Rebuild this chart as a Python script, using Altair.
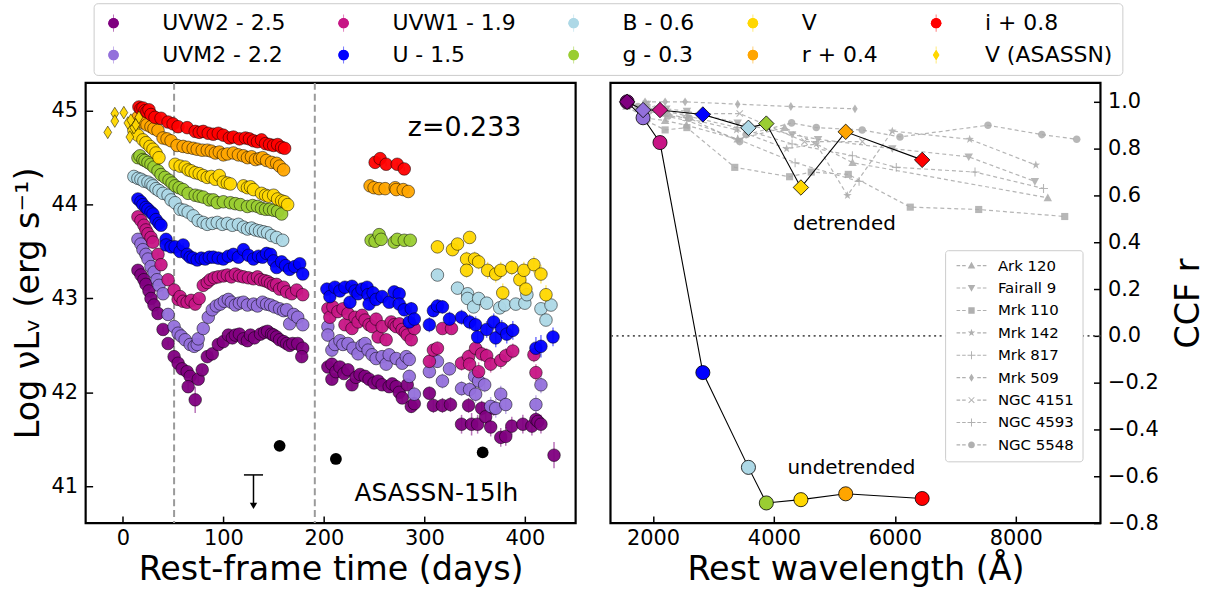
import altair as alt
import pandas as pd

FONT = "DejaVu Sans"

# ---------------- light curves: (rest-frame day, plotted log nuLnu, error) ----------------
UVW2 = [
    (15, 43.30, 0.02), (18, 43.25, 0.02), (21, 43.20, 0.02), (23, 43.15, 0.02), (26, 43.08, 0.02), (28, 43.00, 0.02),
    (31, 42.93, 0.02), (35, 42.84, 0.03), (40, 42.67, 0.03), (45, 42.52, 0.03), (51, 42.38, 0.03), (55, 42.31, 0.03),
    (59, 42.25, 0.03), (64, 42.22, 0.03), (67, 42.17, 0.04), (65, 42.06, 0.04), (72, 41.92, 0.14), (75, 42.14, 0.04),
    (79, 42.24, 0.03), (84, 42.38, 0.03), (89, 42.41, 0.03), (95, 42.51, 0.03), (100, 42.54, 0.03), (105, 42.61, 0.03),
    (109, 42.58, 0.03), (112, 42.61, 0.03), (116, 42.62, 0.03), (120, 42.57, 0.03), (124, 42.55, 0.03), (127, 42.61, 0.03),
    (131, 42.58, 0.03), (137, 42.62, 0.03), (141, 42.64, 0.03), (144, 42.65, 0.03), (148, 42.62, 0.03), (150, 42.61, 0.03),
    (153, 42.59, 0.03), (156, 42.56, 0.03), (160, 42.54, 0.03), (163, 42.52, 0.03), (166, 42.50, 0.03), (169, 42.52, 0.03),
    (174, 42.52, 0.03), (179, 42.47, 0.03), (178, 42.38, 0.04),
    (204, 42.27, 0.05), (208, 42.30, 0.05), (208, 42.14, 0.06), (212, 42.22, 0.05), (216, 42.27, 0.05), (220, 42.20, 0.05),
    (224, 42.24, 0.05), (228, 42.08, 0.06), (232, 42.16, 0.05), (236, 42.19, 0.05), (241, 42.17, 0.05), (245, 42.14, 0.05),
    (250, 42.10, 0.05), (254, 42.12, 0.05), (258, 42.08, 0.05), (265, 42.06, 0.05), (268, 42.09, 0.05), (272, 42.06, 0.05),
    (275, 42.00, 0.06), (278, 41.94, 0.06), (283, 42.08, 0.05), (287, 41.85, 0.07), (290, 41.88, 0.07),
    (305, 41.99, 0.07), (309, 41.86, 0.08), (318, 41.86, 0.08), (326, 41.87, 0.08), (337, 41.66, 0.10), (344, 41.86, 0.08),
    (347, 41.66, 0.12), (353, 41.66, 0.10), (357, 41.83, 0.08), (361, 41.74, 0.09), (366, 41.63, 0.10), (369, 41.83, 0.08),
    (376, 41.52, 0.10), (381, 41.53, 0.10), (387, 41.64, 0.10), (398, 41.66, 0.10), (407, 41.64, 0.10), (411, 41.71, 0.08),
    (413, 41.69, 0.08), (416, 41.66, 0.10), (429, 41.33, 0.14),
]
UVM2 = [
    (15, 43.63, 0.02), (18, 43.58, 0.02), (20, 43.52, 0.02), (23, 43.47, 0.02), (25, 43.42, 0.02), (28, 43.34, 0.02),
    (31, 43.28, 0.02), (34, 43.20, 0.02), (36, 43.14, 0.02), (40, 43.05, 0.03), (45, 42.83, 0.03), (51, 42.70, 0.03),
    (55, 42.63, 0.03), (58, 42.60, 0.03), (62, 42.56, 0.03), (67, 42.51, 0.03), (71, 42.49, 0.03), (74, 42.51, 0.03),
    (75, 42.57, 0.03), (80, 42.68, 0.03), (85, 42.80, 0.03), (89, 42.88, 0.03), (93, 42.92, 0.03), (97, 42.94, 0.03),
    (101, 42.97, 0.03), (105, 42.99, 0.03), (108, 42.96, 0.03), (112, 42.93, 0.03), (116, 42.95, 0.03), (120, 42.96, 0.03),
    (124, 42.93, 0.03), (130, 42.94, 0.03), (134, 42.92, 0.03), (139, 42.96, 0.03), (143, 42.94, 0.03), (147, 42.93, 0.03),
    (151, 42.91, 0.03), (156, 42.89, 0.03), (160, 42.87, 0.03), (163, 42.88, 0.03), (166, 42.73, 0.04), (170, 42.83, 0.03),
    (174, 42.80, 0.03), (179, 42.72, 0.04),
    (204, 42.70, 0.05), (204, 42.61, 0.05), (208, 42.45, 0.06), (211, 42.51, 0.05), (216, 42.55, 0.05), (219, 42.51, 0.05),
    (224, 42.52, 0.05), (229, 42.47, 0.05), (234, 42.41, 0.06), (238, 42.50, 0.05), (241, 42.52, 0.05), (244, 42.45, 0.05),
    (248, 42.40, 0.06), (252, 42.36, 0.06), (258, 42.38, 0.06), (262, 42.30, 0.06), (265, 42.40, 0.06), (272, 42.36, 0.06),
    (278, 42.31, 0.06), (282, 42.38, 0.06), (285, 42.35, 0.06), (285, 42.17, 0.07), (290, 41.98, 0.08),
    (305, 42.22, 0.07), (313, 42.33, 0.07), (318, 42.12, 0.08), (325, 42.25, 0.07), (337, 42.04, 0.08), (345, 42.03, 0.08),
    (350, 42.17, 0.08), (351, 41.98, 0.09), (354, 42.12, 0.08), (360, 42.08, 0.08), (366, 41.85, 0.10), (371, 41.83, 0.10),
    (376, 41.98, 0.09), (381, 41.87, 0.10), (411, 41.87, 0.10), (416, 42.08, 0.09),
]
UVW1 = [
    (15, 43.87, 0.02), (18, 43.83, 0.02), (21, 43.78, 0.02), (23, 43.73, 0.02), (25, 43.69, 0.02), (28, 43.65, 0.02),
    (30, 43.60, 0.02), (35, 43.47, 0.02), (38, 43.36, 0.02), (45, 43.20, 0.03), (51, 43.09, 0.03), (55, 42.99, 0.03),
    (57, 43.02, 0.03), (60, 42.97, 0.03), (64, 42.96, 0.03), (68, 42.98, 0.03), (72, 42.94, 0.03), (76, 43.00, 0.03),
    (80, 43.14, 0.03), (84, 43.17, 0.03), (87, 43.20, 0.03), (91, 43.22, 0.03), (95, 43.23, 0.03), (100, 43.24, 0.03),
    (104, 43.25, 0.03), (108, 43.23, 0.03), (112, 43.26, 0.03), (116, 43.24, 0.03), (120, 43.23, 0.03), (125, 43.22, 0.03),
    (130, 43.21, 0.03), (134, 43.23, 0.03), (137, 43.20, 0.03), (141, 43.19, 0.03), (144, 43.18, 0.03), (147, 43.16, 0.03),
    (150, 43.14, 0.03), (153, 43.15, 0.03), (156, 43.10, 0.03), (160, 43.12, 0.03), (163, 43.07, 0.03), (168, 43.05, 0.03),
    (173, 43.09, 0.03), (179, 43.04, 0.03),
    (204, 42.89, 0.05), (206, 42.80, 0.05), (209, 42.91, 0.05), (214, 42.86, 0.05), (219, 42.89, 0.05), (221, 42.72, 0.06),
    (224, 42.84, 0.05), (228, 42.68, 0.06), (231, 42.80, 0.05), (234, 42.75, 0.05), (238, 42.82, 0.05), (241, 42.77, 0.05),
    (245, 42.72, 0.06), (248, 42.70, 0.06), (252, 42.78, 0.05), (254, 42.59, 0.06), (258, 42.70, 0.06), (262, 42.56, 0.06),
    (267, 42.75, 0.05), (270, 42.72, 0.06), (272, 42.70, 0.06), (275, 42.73, 0.06), (278, 42.67, 0.06), (281, 42.64, 0.06),
    (283, 42.61, 0.06), (287, 42.56, 0.07), (290, 42.68, 0.06),
    (305, 42.33, 0.08), (309, 42.45, 0.07), (313, 42.47, 0.07), (318, 42.68, 0.06), (327, 42.68, 0.06), (337, 42.31, 0.08),
    (344, 42.38, 0.08), (345, 42.30, 0.09), (351, 42.47, 0.08), (354, 42.22, 0.10), (357, 42.41, 0.08), (362, 42.39, 0.08),
    (366, 42.30, 0.09), (376, 42.34, 0.09), (381, 42.39, 0.08), (388, 42.44, 0.08), (409, 42.40, 0.08), (411, 42.21, 0.09),
]
U = [
    (15, 44.06, 0.02), (18, 44.03, 0.02), (20, 44.00, 0.02), (23, 43.97, 0.02), (25, 43.95, 0.02), (28, 43.92, 0.02),
    (30, 43.90, 0.02), (33, 43.84, 0.02), (36, 43.80, 0.02), (38, 43.78, 0.02), (43, 43.63, 0.02), (43, 43.57, 0.02),
    (48, 43.55, 0.02), (52, 43.55, 0.02), (57, 43.50, 0.02), (60, 43.57, 0.02), (64, 43.47, 0.02), (67, 43.44, 0.02),
    (70, 43.43, 0.02), (74, 43.41, 0.02), (78, 43.43, 0.02), (82, 43.42, 0.02), (86, 43.44, 0.02), (90, 43.44, 0.02),
    (95, 43.43, 0.02), (100, 43.42, 0.02), (105, 43.45, 0.02), (110, 43.47, 0.02), (115, 43.44, 0.02), (120, 43.52, 0.02),
    (125, 43.46, 0.02), (130, 43.42, 0.02), (135, 43.45, 0.02), (139, 43.44, 0.02), (143, 43.48, 0.02), (147, 43.47, 0.02),
    (150, 43.40, 0.02), (153, 43.33, 0.03), (158, 43.39, 0.03), (162, 43.35, 0.03), (166, 43.31, 0.03), (171, 43.34, 0.03),
    (176, 43.37, 0.03), (179, 43.26, 0.03),
    (203, 43.10, 0.05), (206, 43.02, 0.05), (211, 43.12, 0.05), (216, 43.08, 0.05), (221, 43.12, 0.06), (226, 42.96, 0.06),
    (228, 43.13, 0.06), (231, 43.08, 0.05), (234, 43.05, 0.05), (238, 43.10, 0.05), (243, 43.12, 0.05), (244, 43.04, 0.06),
    (245, 42.94, 0.06), (249, 43.06, 0.06), (252, 42.99, 0.06), (258, 43.02, 0.06), (265, 42.96, 0.06), (270, 43.07, 0.06),
    (275, 43.05, 0.06), (275, 42.94, 0.06), (280, 42.88, 0.07), (285, 42.75, 0.07), (287, 42.89, 0.07), (290, 42.78, 0.07),
    (305, 42.72, 0.08), (309, 42.87, 0.07), (313, 42.92, 0.07), (318, 42.91, 0.07), (325, 42.78, 0.08), (337, 42.80, 0.08),
    (345, 42.75, 0.08), (351, 42.72, 0.09), (353, 42.59, 0.10), (362, 42.67, 0.09), (369, 42.75, 0.09), (371, 42.58, 0.10),
    (377, 42.68, 0.09), (382, 42.62, 0.10), (388, 42.66, 0.10), (411, 42.47, 0.12), (416, 42.49, 0.12), (428, 42.59, 0.10),
]
B = [
    (11, 44.30, 0.02), (15, 44.28, 0.02), (18, 44.27, 0.02), (21, 44.25, 0.02), (25, 44.24, 0.02), (28, 44.22, 0.02),
    (30, 44.20, 0.02), (33, 44.17, 0.02), (36, 44.15, 0.02), (40, 44.12, 0.02), (45, 44.10, 0.02), (48, 44.05, 0.02),
    (52, 44.02, 0.02), (57, 43.95, 0.02), (61, 43.94, 0.02), (65, 43.92, 0.02), (70, 43.88, 0.02), (75, 43.83, 0.02),
    (80, 43.81, 0.02), (84, 43.79, 0.02), (89, 43.80, 0.02), (94, 43.81, 0.02), (99, 43.79, 0.02), (104, 43.80, 0.02),
    (109, 43.78, 0.02), (115, 43.79, 0.02), (120, 43.76, 0.02), (124, 43.74, 0.02), (128, 43.75, 0.02), (132, 43.73, 0.02),
    (136, 43.72, 0.02), (140, 43.71, 0.02), (144, 43.70, 0.02), (148, 43.67, 0.02), (153, 43.65, 0.02), (159, 43.62, 0.02),
    (313, 43.25, 0.04), (333, 43.11, 0.04), (343, 43.05, 0.04), (343, 43.00, 0.04), (349, 42.91, 0.05), (354, 43.00, 0.04),
    (362, 42.95, 0.04), (375, 42.90, 0.05), (380, 42.93, 0.05), (391, 42.94, 0.05), (400, 42.95, 0.05), (402, 43.04, 0.04),
    (416, 42.89, 0.05), (421, 42.77, 0.05), (426, 42.93, 0.05),
]
G = [
    (15, 44.50, 0.02), (17, 44.52, 0.02), (20, 44.48, 0.02), (22, 44.47, 0.02), (25, 44.45, 0.02), (28, 44.43, 0.02),
    (31, 44.40, 0.02), (35, 44.36, 0.02), (38, 44.32, 0.02), (42, 44.29, 0.02), (46, 44.26, 0.02), (49, 44.23, 0.02),
    (52, 44.20, 0.02), (56, 44.18, 0.02), (60, 44.16, 0.02), (65, 44.12, 0.02), (72, 44.10, 0.02), (76, 44.09, 0.02),
    (80, 44.08, 0.02), (86, 44.05, 0.02), (90, 44.05, 0.02), (94, 44.02, 0.02), (100, 44.03, 0.02), (107, 44.02, 0.02),
    (112, 44.01, 0.02), (117, 44.00, 0.02), (124, 43.98, 0.02), (129, 43.99, 0.02), (134, 43.98, 0.02), (138, 43.96, 0.02),
    (142, 43.95, 0.02), (146, 43.95, 0.02), (150, 43.94, 0.02), (154, 43.93, 0.02), (158, 43.90, 0.02),
    (247, 43.62, 0.02), (251, 43.61, 0.02), (255, 43.68, 0.02), (257, 43.63, 0.02), (270, 43.60, 0.02), (273, 43.63, 0.02),
    (280, 43.62, 0.02), (286, 43.62, 0.02),
]
V = [
    (11, 44.79, 0.02), (15, 44.74, 0.02), (20, 44.69, 0.02), (23, 44.66, 0.02), (27, 44.62, 0.02), (30, 44.59, 0.02),
    (33, 44.55, 0.02), (36, 44.50, 0.02), (52, 44.43, 0.02), (57, 44.41, 0.02), (62, 44.40, 0.02), (65, 44.37, 0.02),
    (68, 44.36, 0.02), (72, 44.34, 0.02), (76, 44.33, 0.02), (80, 44.31, 0.02), (84, 44.29, 0.02), (88, 44.30, 0.02),
    (92, 44.27, 0.02), (96, 44.31, 0.02), (100, 44.24, 0.02), (104, 44.23, 0.02), (107, 44.22, 0.02), (120, 44.20, 0.02),
    (124, 44.18, 0.02), (127, 44.19, 0.02), (130, 44.16, 0.02), (138, 44.12, 0.02), (142, 44.10, 0.02), (145, 44.09, 0.02),
    (150, 44.10, 0.02), (154, 44.06, 0.02), (158, 44.04, 0.02), (161, 44.03, 0.02), (164, 44.00, 0.02),
    (313, 43.55, 0.05), (328, 43.52, 0.06), (333, 43.58, 0.06), (342, 43.42, 0.08), (342, 43.30, 0.08), (345, 43.65, 0.06),
    (350, 43.42, 0.08), (354, 43.39, 0.08), (363, 43.30, 0.09), (371, 43.26, 0.09), (376, 43.30, 0.09), (378, 43.06, 0.10),
    (387, 43.33, 0.08), (395, 43.20, 0.10), (399, 43.30, 0.09), (401, 43.10, 0.10), (409, 43.36, 0.09), (416, 43.26, 0.10),
    (421, 43.04, 0.10),
]
R = [
    (15, 44.93, 0.02), (18, 44.90, 0.02), (21, 44.87, 0.02), (24, 44.85, 0.02), (28, 44.83, 0.02), (31, 44.81, 0.02),
    (35, 44.79, 0.02), (40, 44.71, 0.02), (44, 44.70, 0.02), (48, 44.68, 0.02), (54, 44.63, 0.02), (60, 44.62, 0.02),
    (65, 44.61, 0.02), (70, 44.60, 0.02), (74, 44.59, 0.02), (79, 44.58, 0.02), (84, 44.58, 0.02), (88, 44.57, 0.02),
    (92, 44.55, 0.02), (96, 44.56, 0.02), (100, 44.53, 0.02), (104, 44.54, 0.02), (110, 44.55, 0.02), (115, 44.53, 0.02),
    (120, 44.52, 0.02), (124, 44.50, 0.02), (128, 44.51, 0.02), (132, 44.48, 0.02), (136, 44.49, 0.02), (139, 44.50, 0.02),
    (143, 44.47, 0.02), (148, 44.45, 0.02), (153, 44.44, 0.02), (156, 44.41, 0.02), (160, 44.37, 0.02),
    (246, 44.20, 0.02), (250, 44.18, 0.02), (255, 44.17, 0.02), (261, 44.17, 0.02), (271, 44.18, 0.02), (272, 44.16, 0.02),
    (279, 44.16, 0.02), (284, 44.14, 0.02),
]
I = [
    (16, 45.04, 0.02), (18, 45.02, 0.02), (20, 45.03, 0.02), (22, 45.00, 0.02), (24, 44.99, 0.02), (26, 45.01, 0.02),
    (28, 44.96, 0.02), (32, 44.93, 0.02), (38, 44.92, 0.02), (45, 44.88, 0.02), (50, 44.86, 0.02), (55, 44.83, 0.02),
    (64, 44.82, 0.02), (72, 44.78, 0.02), (76, 44.77, 0.02), (80, 44.78, 0.02), (85, 44.76, 0.02), (90, 44.75, 0.02),
    (95, 44.76, 0.02), (100, 44.74, 0.02), (106, 44.71, 0.02), (110, 44.72, 0.02), (116, 44.70, 0.02), (122, 44.71, 0.02),
    (126, 44.70, 0.02), (130, 44.68, 0.02), (134, 44.67, 0.02), (138, 44.69, 0.02), (142, 44.65, 0.02), (146, 44.64, 0.02),
    (150, 44.63, 0.02), (154, 44.64, 0.02), (158, 44.61, 0.02), (161, 44.60, 0.02),
    (251, 44.45, 0.02), (256, 44.49, 0.02), (262, 44.43, 0.02), (273, 44.43, 0.02), (280, 44.38, 0.02),
]
V_ASASSN = [
    (-15, 44.77, 0.02), (-8, 44.97, 0.02), (-8, 44.89, 0.02), (1, 44.98, 0.02), (5, 44.87, 0.02), (7, 44.72, 0.02),
    (8, 44.90, 0.02), (11, 44.82, 0.02), (13, 44.85, 0.02), (16, 44.93, 0.02),
]

BAND_LABELS = ["UVW2 - 2.5", "UVM2 - 2.2", "UVW1 - 1.9", "U - 1.5", "B - 0.6",
               "g - 0.3", "V", "r + 0.4", "i + 0.8", "V (ASASSN)"]
BAND_COLORS = ["#800080", "#9370DB", "#C71585", "#0000FF", "#ADD8E6",
               "#9ACD32", "#FFD700", "#FFA500", "#FF0000", "#FFD700"]
BAND_DATA = [UVW2, UVM2, UVW1, U, B, G, V, R, I, V_ASASSN]

# legend order (matplotlib fills columns first -> reorder row-wise)
LEG_ORDER = ["UVW2 - 2.5", "UVW1 - 1.9", "B - 0.6", "V", "i + 0.8",
             "UVM2 - 2.2", "U - 1.5", "g - 0.3", "r + 0.4", "V (ASASSN)"]
LEG_COLORS = ["#800080", "#C71585", "#ADD8E6", "#FFD700", "#FF0000",
              "#9370DB", "#0000FF", "#9ACD32", "#FFA500", "#FFD700"]
THIN_DIAMOND = "M0,-1L0.62,0L0,1L-0.62,0Z"
LEG_SHAPES = ["circle"] * 9 + [THIN_DIAMOND]
# error-bar stub drawn above and below each legend marker (separate, label-less legend)
ERR_STUB = "M-0.09,-1.65L0.09,-1.65L0.09,-1.0L-0.09,-1.0Z M-0.09,1.0L0.09,1.0L0.09,1.65L-0.09,1.65Z"
STUB_DOMAIN = [s + "\u200b" for s in LEG_ORDER]
DUP_DOMAIN = [s + "\u200b\u200b" for s in LEG_ORDER]

# extra markers
DOT_T = [156, 212, 358]
DOT_L = [41.43, 41.29, 41.36]
LIMIT_T = [130]
LIMIT_TOP = [41.12]
LIMIT_TIP = [40.79]
VLINES_T = [51, 191]

# ---------------- CCF panel ----------------
CCF_BANDS = ["UVW2", "UVM2", "UVW1", "U", "B", "g", "V", "r", "i"]
CCF_LAM = [1571, 1835, 2115, 2824, 3578, 3874, 4446, 5187, 6452]
CCF_DET = [1.0, 0.965, 0.965, 0.946, 0.889, 0.907, 0.634, 0.872, 0.752]
CCF_UNDET = [1.0, 0.932, 0.826, -0.157, -0.562, -0.714, -0.700, -0.675, -0.695]
CCF_COLORS = ["#800080", "#9370DB", "#C71585", "#0000FF", "#ADD8E6",
              "#9ACD32", "#FFD700", "#FFA500", "#FF0000"]

AGN_NAMES = ["Ark 120", "Fairall 9", "Mrk 110", "Mrk 142", "Mrk 817",
             "Mrk 509", "NGC 4151", "NGC 4593", "NGC 5548"]
AGN_LAM = {
    "Ark 120": [1560, 1900, 2200, 2550, 3400, 4177, 5300, 8530],
    "Fairall 9": [1900, 2220, 2560, 3400, 4300, 4730, 5958, 7222, 8316],
    "Mrk 110": [1880, 2200, 2560, 3352, 4259, 4617, 5230, 6255, 7387, 8810],
    "Mrk 142": [1600, 1880, 2200, 2560, 3380, 4210, 4700, 5216, 5958, 7238, 8332],
    "Mrk 817": [1880, 2200, 2560, 3400, 4300, 5298, 6024, 7326, 8459],
    "Mrk 509": [1868, 2200, 2530, 3400, 4280, 5340],
    "NGC 4151": [1880, 2200, 2560, 3434, 4506, 5463],
    "NGC 4593": [1880, 2200, 2560, 3400, 4350, 5408],
    "NGC 5548": [1750, 1930, 2250, 2600, 3434, 3540, 4292, 4700, 5460, 6085, 7540, 8431, 9008],
}
AGN_R = {
    "Ark 120": [0.98, 0.93, 0.92, 0.90, 0.84, 0.89, 0.74, 0.59],
    "Fairall 9": [0.99, 0.97, 0.96, 0.91, 0.86, 0.84, 0.80, 0.765, 0.66],
    "Mrk 110": [0.92, 0.88, 0.89, 0.72, 0.68, 0.70, 0.69, 0.55, 0.54, 0.51],
    "Mrk 142": [0.99, 0.98, 0.95, 0.93, 0.88, 0.80, 0.82, 0.60, 0.875, 0.84, 0.73],
    "Mrk 817": [0.98, 0.96, 0.94, 0.89, 0.82, 0.77, 0.72, 0.70, 0.63],
    "Mrk 509": [1.0, 1.0, 1.0, 0.99, 0.98, 0.97],
    "NGC 4151": [0.99, 0.96, 0.95, 0.95, 0.83, 0.83],
    "NGC 4593": [0.98, 0.94, 0.92, 0.84, 0.74, 0.66],
    "NGC 5548": [0.98, 0.96, 0.94, 0.93, 0.83, 0.86, 0.91, 0.89, 0.88, 0.85, 0.90, 0.86, 0.84],
}
# marker glyphs (unit box)
TRI_UP = "M0,-0.95L0.95,0.75L-0.95,0.75Z"
TRI_DN = "M0,0.95L0.95,-0.75L-0.95,-0.75Z"
SQUARE = "M-0.8,-0.8L0.8,-0.8L0.8,0.8L-0.8,0.8Z"
STAR = "M0,-1L0.24,-0.33L0.95,-0.31L0.38,0.12L0.59,0.81L0,0.4L-0.59,0.81L-0.38,0.12L-0.95,-0.31L-0.24,-0.33Z"
PLUS = "M-1,-0.12L-0.12,-0.12L-0.12,-1L0.12,-1L0.12,-0.12L1,-0.12L1,0.12L0.12,0.12L0.12,1L-0.12,1L-0.12,0.12L-1,0.12Z"
XMARK = ("M-0.8,-0.63L-0.63,-0.8L0,-0.17L0.63,-0.8L0.8,-0.63L0.17,0L0.8,0.63L0.63,0.8L0,0.17"
         "L-0.63,0.8L-0.8,0.63L-0.17,0Z")
CIRCLE = "M0.85,0A0.85,0.85 0 1,1 -0.85,0A0.85,0.85 0 1,1 0.85,0Z"
AGN_SHAPES = [TRI_UP, TRI_DN, SQUARE, STAR, PLUS, THIN_DIAMOND, XMARK, PLUS, CIRCLE]
# legend handle: dashed line segments either side of the marker (matplotlib "--o--" style)
DASHES = ("M-3.75,-0.14L-2.85,-0.14L-2.85,0.14L-3.75,0.14Z M-2.35,-0.14L-1.45,-0.14L-1.45,0.14L-2.35,0.14Z "
          "M1.45,-0.14L2.35,-0.14L2.35,0.14L1.45,0.14Z M2.85,-0.14L3.75,-0.14L3.75,0.14L2.85,0.14Z ")
AGN_LEG_SHAPES = [DASHES + s for s in AGN_SHAPES]

# ---------------- build tables ----------------
rows = []
for lab, col, data in zip(BAND_LABELS, BAND_COLORS, BAND_DATA):
    for (t, L, e) in data:
        rows.append({"band": lab, "hex": col, "t": t, "L": L, "e": e})
lc = pd.DataFrame(rows)
dots = pd.DataFrame({"t": DOT_T, "L": DOT_L})
lim = pd.DataFrame({"t": LIMIT_T, "top": LIMIT_TOP, "tip": LIMIT_TIP})
vl = pd.DataFrame({"t": VLINES_T})

ccf = pd.DataFrame({"band": CCF_BANDS, "lam": CCF_LAM, "det": CCF_DET,
                    "undet": CCF_UNDET, "col": CCF_COLORS, "k": list(range(len(CCF_BANDS)))})
arows = []
for n in AGN_NAMES:
    for k, (lam, r) in enumerate(zip(AGN_LAM[n], AGN_R[n])):
        arows.append({"agn": n, "lam": lam, "r": r, "k": k})
agn = pd.DataFrame(arows)

# ---------------- scales / axes ----------------
XL = alt.Scale(domain=[-37, 450.5], nice=False, zero=False)
YL = alt.Scale(domain=[40.607, 45.297], nice=False, zero=False)
XR = alt.Scale(domain=[1296, 9401], nice=False, zero=False)
YR = alt.Scale(domain=[-0.8, 1.081], nice=False, zero=False)

TICK = dict(tickSize=7, tickWidth=1.5, tickColor="black", domain=False, grid=False,
            labelFontSize=21, titleFontSize=33.5, titleFontWeight="normal",
            labelColor="black", titleColor="black", labelFont=FONT, titleFont=FONT)

x_left_axis = alt.Axis(title="Rest-frame time (days)", values=[0, 100, 200, 300, 400], format="d",
                       offset=-7, labelPadding=5, titlePadding=5, **TICK)
y_left_axis = alt.Axis(title="Log νLᵥ (erg s⁻¹)", values=[41, 42, 43, 44, 45], format="d",
                       offset=-7, labelPadding=8, titlePadding=6, **TICK)
x_right_axis = alt.Axis(title="Rest wavelength (Å)", values=[2000, 4000, 6000, 8000], format="d",
                        offset=-7, labelPadding=5, titlePadding=5, **TICK)
y_right_axis = alt.Axis(title="CCF r", orient="right", format=".1f",
                        values=[-0.8, -0.6, -0.4, -0.2, 0.0, 0.2, 0.4, 0.6, 0.8, 1.0],
                        offset=-7, labelPadding=7, titlePadding=14, titleAngle=270,
                        titleBaseline="top", **TICK)

LEG_LAYOUT = dict(title=None, orient="none", legendX=8, legendY=-80, direction="horizontal",
                  columns=5, labelFontSize=22, labelFont=FONT, symbolSize=110,
                  columnPadding=47, rowPadding=10, padding=9, labelOffset=38)
top_legend = alt.Legend(strokeColor="#cccccc", cornerRadius=4,
                        symbolStrokeColor="black", symbolStrokeWidth=0.6,
                        symbolOpacity=1, labelColor="black", **LEG_LAYOUT)
dup_legend = alt.Legend(symbolStrokeColor="black", symbolStrokeWidth=0.6,
                        symbolOpacity=1, labelColor="transparent", **LEG_LAYOUT)
stub_legend = alt.Legend(symbolStrokeWidth=0, symbolOpacity=0.55, labelColor="transparent",
                         **LEG_LAYOUT)

color_scale = alt.Scale(domain=LEG_ORDER, range=LEG_COLORS)
shape_scale = alt.Scale(domain=LEG_ORDER, range=LEG_SHAPES)

base_l = alt.Chart(lc)
err = base_l.mark_rule(strokeWidth=1.5, opacity=0.55).transform_calculate(
    lo="datum.L - datum.e", hi="datum.L + datum.e"
).encode(
    x=alt.X("t:Q", scale=XL, axis=x_left_axis),
    y=alt.Y("lo:Q", scale=YL, axis=y_left_axis),
    y2="hi:Q",
    color=alt.Color("hex:N", scale=None),
)
# legend-only layer: error-bar stubs for the band legend (fill channel, no rows drawn)
stubs = base_l.transform_filter("datum.t > 100000").mark_point(
    shape=ERR_STUB, filled=True, opacity=1).encode(
    x=alt.X("t:Q", scale=XL), y=alt.Y("L:Q", scale=YL),
    fill=alt.Fill("band:N", scale=alt.Scale(domain=STUB_DOMAIN, range=LEG_COLORS),
                  legend=stub_legend))
# legend-only layer: second copy of the marker symbols so legend markers are fully saturated
dup = base_l.transform_filter("datum.t > 100000").mark_point(
    filled=True, stroke="black", strokeWidth=0.6, opacity=1).encode(
    x=alt.X("t:Q", scale=XL), y=alt.Y("L:Q", scale=YL),
    color=alt.Color("band:N", scale=alt.Scale(domain=DUP_DOMAIN, range=LEG_COLORS),
                    legend=dup_legend),
    shape=alt.Shape("band:N", scale=alt.Scale(domain=DUP_DOMAIN, range=LEG_SHAPES),
                    legend=dup_legend))
pts = base_l.mark_point(filled=True, size=160, stroke="black", strokeWidth=0.6,
                        opacity=1, fillOpacity=0.95, strokeOpacity=0.85).encode(
    x=alt.X("t:Q", scale=XL),
    y=alt.Y("L:Q", scale=YL),
    color=alt.Color("band:N", scale=color_scale, legend=top_legend),
    shape=alt.Shape("band:N", scale=shape_scale, legend=top_legend),
)
vlines = alt.Chart(vl).mark_rule(color="#9a9a9a", strokeWidth=2, strokeDash=[7, 4]).encode(
    x=alt.X("t:Q", scale=XL))
dots_l = alt.Chart(dots).mark_circle(size=140, color="black", opacity=1).encode(
    x=alt.X("t:Q", scale=XL), y=alt.Y("L:Q", scale=YL))
lim_cap = alt.Chart(lim).mark_rule(color="black", strokeWidth=1.5).transform_calculate(
    a="datum.t - 9.5", b="datum.t + 9.5").encode(
    x=alt.X("a:Q", scale=XL), x2="b:Q", y=alt.Y("top:Q", scale=YL))
lim_stem = alt.Chart(lim).mark_rule(color="black", strokeWidth=1.5).encode(
    x=alt.X("t:Q", scale=XL), y=alt.Y("top:Q", scale=YL), y2="tip:Q")
lim_head = alt.Chart(lim).mark_point(shape="triangle-down", filled=True, size=55,
                                     color="black", opacity=1).encode(
    x=alt.X("t:Q", scale=XL), y=alt.Y("tip:Q", scale=YL))
txt_z = alt.Chart(pd.DataFrame({"t": [340], "L": [44.82], "s": ["z=0.233"]})).mark_text(
    font=FONT, fontSize=27, color="black", align="center", baseline="middle").encode(
    x=alt.X("t:Q", scale=XL), y=alt.Y("L:Q", scale=YL), text="s:N")
txt_n = alt.Chart(pd.DataFrame({"t": [312], "L": [40.93], "s": ["ASASSN-15lh"]})).mark_text(
    font=FONT, fontSize=25, color="black", align="center", baseline="middle").encode(
    x=alt.X("t:Q", scale=XL), y=alt.Y("L:Q", scale=YL), text="s:N")

left = alt.layer(vlines, err, stubs, dup, pts, dots_l, lim_cap, lim_stem, lim_head, txt_z, txt_n
                 ).resolve_scale(color="independent", shape="independent"
                 ).properties(width=492, height=442)

# ---------------- right panel ----------------
zero = alt.Chart(pd.DataFrame({"r": [0.0]})).mark_rule(
    color="#555555", strokeWidth=1.8, strokeDash=[2, 3.5]).encode(
    y=alt.Y("r:Q", scale=YR, axis=y_right_axis))
agn_lines = alt.Chart(agn).mark_line(color="#a8a8a8", strokeWidth=1.2, strokeDash=[4, 3],
                                     opacity=0.85).encode(
    x=alt.X("lam:Q", scale=XR, axis=x_right_axis), y=alt.Y("r:Q", scale=YR),
    detail="agn:N", order="k:Q")
agn_pts = alt.Chart(agn).mark_point(filled=True, color="#aaaaaa", size=80, opacity=0.85).encode(
    x=alt.X("lam:Q", scale=XR), y=alt.Y("r:Q", scale=YR),
    shape=alt.Shape("agn:N", scale=alt.Scale(domain=AGN_NAMES, range=AGN_SHAPES), legend=None))
# legend-only layer (no rows survive the filter; the legend comes from the explicit domain)
agn_leg = alt.Chart(agn).transform_filter("datum.r > 5").mark_point(
    filled=True, color="#b0b0b0", opacity=1).encode(
    x=alt.X("lam:Q", scale=XR), y=alt.Y("r:Q", scale=YR),
    shape=alt.Shape("agn:N", scale=alt.Scale(domain=AGN_NAMES, range=AGN_LEG_SHAPES),
                    legend=alt.Legend(title=None, orient="none", legendX=336, legendY=168,
                                      labelFontSize=15, labelFont=FONT, labelColor="black",
                                      symbolSize=64, symbolFillColor="#b0b0b0",
                                      symbolStrokeWidth=0, symbolOffset=11,
                                      padding=8, rowPadding=6.5, labelOffset=19,
                                      strokeColor="#cccccc", cornerRadius=3,
                                      fillColor="white")))
und_line = alt.Chart(ccf).mark_line(color="black", strokeWidth=1.1).encode(
    x=alt.X("lam:Q", scale=XR), y=alt.Y("undet:Q", scale=YR), order="k:Q")
und_pts = alt.Chart(ccf).mark_point(shape="circle", filled=True, size=200, stroke="black",
                                    strokeWidth=0.8, opacity=1).encode(
    x=alt.X("lam:Q", scale=XR), y=alt.Y("undet:Q", scale=YR),
    color=alt.Color("col:N", scale=None))
det_line = alt.Chart(ccf).mark_line(color="black", strokeWidth=1.1).encode(
    x=alt.X("lam:Q", scale=XR), y=alt.Y("det:Q", scale=YR), order="k:Q")
det_pts = alt.Chart(ccf).mark_point(shape="diamond", filled=True, size=240, stroke="black",
                                    strokeWidth=0.8, opacity=1).encode(
    x=alt.X("lam:Q", scale=XR), y=alt.Y("det:Q", scale=YR),
    color=alt.Color("col:N", scale=None))
txt_r = alt.Chart(pd.DataFrame({"lam": [5166, 5282], "r": [0.48, -0.566],
                                "s": ["detrended", "undetrended"]})).mark_text(
    font=FONT, fontSize=20, color="black", align="center", baseline="middle").encode(
    x=alt.X("lam:Q", scale=XR), y=alt.Y("r:Q", scale=YR), text="s:N")

right = alt.layer(zero, agn_lines, agn_pts, agn_leg, und_line, und_pts, det_line, det_pts,
                  txt_r).resolve_scale(shape="independent").properties(width=492, height=442)

chart = alt.hconcat(left, right, spacing=35, bounds="flush").resolve_scale(
    color="independent", shape="independent", fill="independent"
).properties(
    padding={"left": 10, "top": 0, "right": 5, "bottom": 5}
).configure(font=FONT).configure_view(stroke="black", strokeWidth=2.2)

chart.save("out.html", embed_options={"renderer": "svg", "actions": False})
